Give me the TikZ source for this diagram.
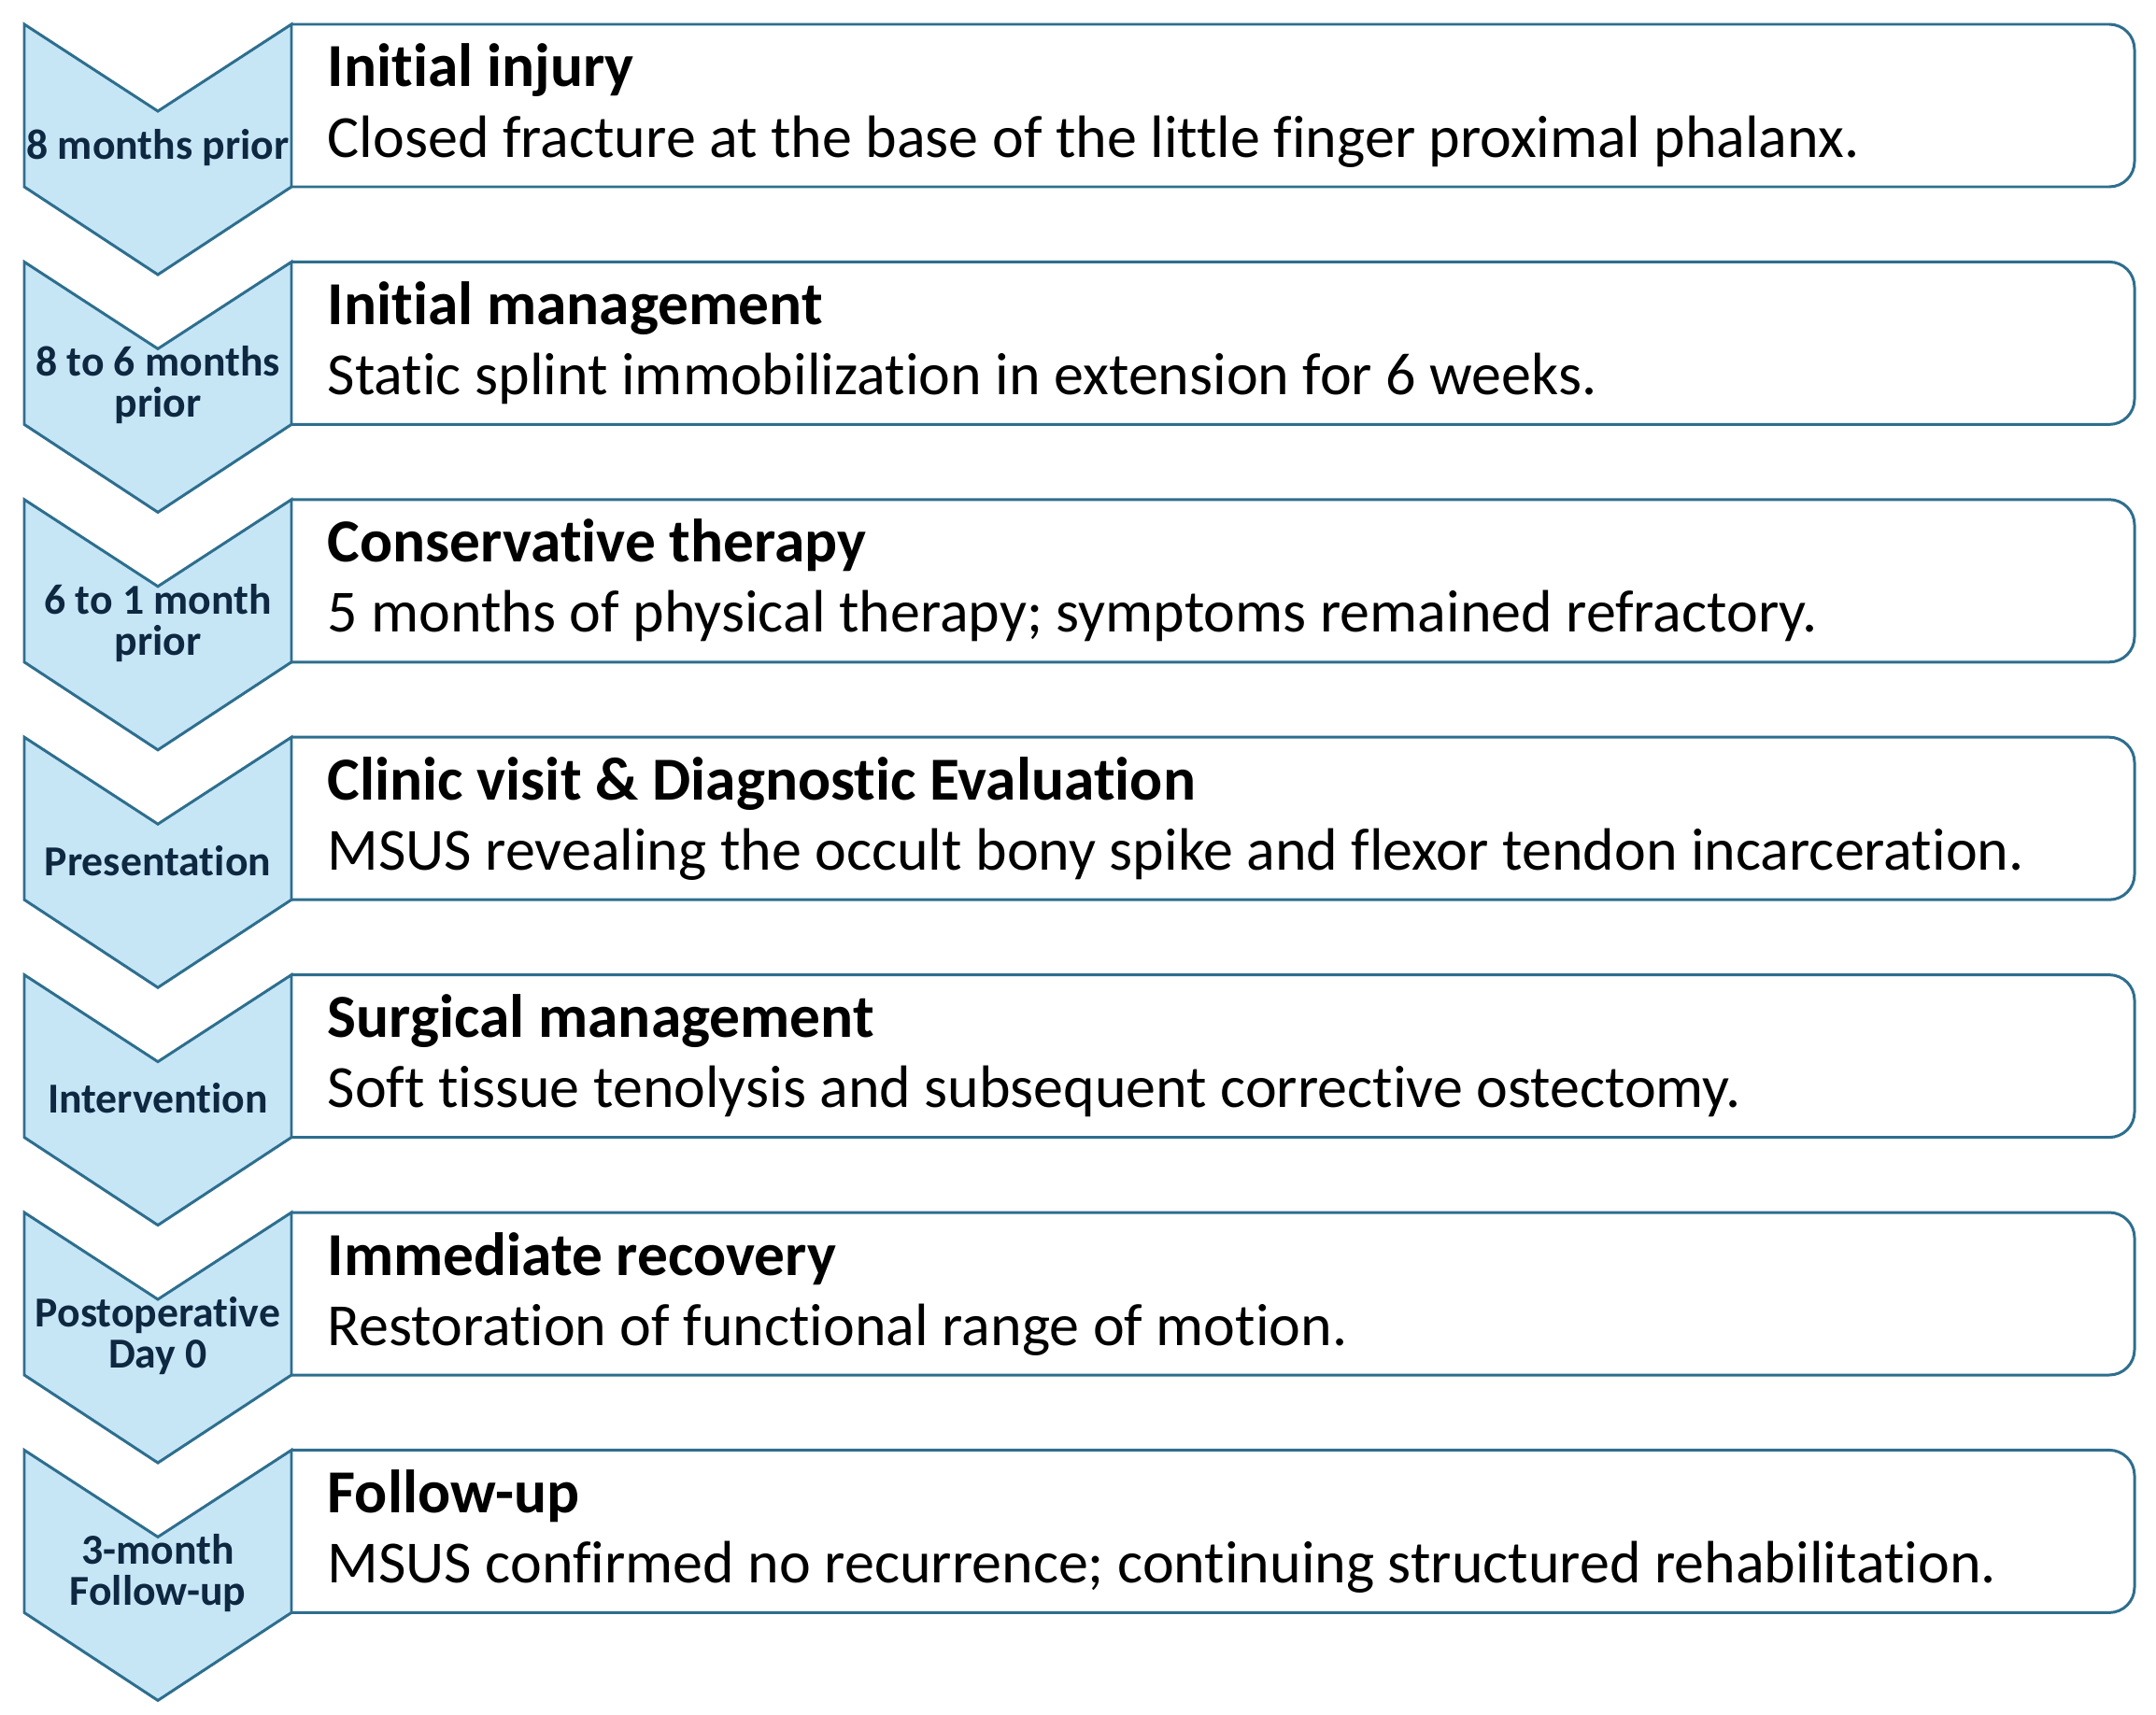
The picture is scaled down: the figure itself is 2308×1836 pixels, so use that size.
\documentclass[tikz,border=0pt]{standalone}
\usepackage{fontspec}
\setmainfont{Carlito}[Ligatures=NoCommon]
\usepackage{xcolor}
\usepackage{tikz}

\definecolor{chevfill}{HTML}{C6E6F6}
\definecolor{chevline}{HTML}{2E6E8E}
\definecolor{lblcol}{HTML}{0E2841}

\begin{document}
\begin{tikzpicture}[x=0.01cm,y=-0.01cm,
    stage/.style={draw=chevline,line width=0.85pt,fill=chevfill,line join=miter},
    panel/.style={draw=chevline,line width=0.85pt,fill=white,rounded corners=7.7pt},
    lbl/.style={align=center,text=lblcol,inner sep=0pt,
      font=\fontsize{13}{12.5}\selectfont\bfseries},
    ttl/.style={anchor=base west,inner sep=0pt,font=\fontsize{18.6}{20}\selectfont\bfseries},
    dsc/.style={anchor=base west,inner sep=0pt,font=\fontsize{18.2}{20}\selectfont}]
  \useasboundingbox (0,0) rectangle (2308,1836);
  \fill[white] (0,0) rectangle (2308,1836);
  \foreach \i/\when/\head/\body in {
      0/{8 months prior}/{Initial injury}/{Closed fracture at the base of the little finger proximal phalanx.},
      1/{8 to 6 months\\prior}/{Initial management}/{Static splint immobilization in extension for 6 weeks.},
      2/{6 to 1 month\\prior}/{Conservative therapy}/{5 months of physical therapy; symptoms remained refractory.},
      3/{Presentation}/{Clinic visit \& Diagnostic Evaluation}/{MSUS revealing the occult bony spike and flexor tendon incarceration.},
      4/{Intervention}/{Surgical management}/{Soft tissue tenolysis and subsequent corrective ostectomy.},
      5/{Postoperative\\Day 0}/{Immediate recovery}/{Restoration of functional range of motion.},
      6/{3-month\\Follow-up}/{Follow-up}/{MSUS confirmed no recurrence; continuing structured rehabilitation.}} {
    \pgfmathsetmacro{\rowy}{26+254.4*\i}
    % box first, chevron on top of its left edge
    \draw[panel] (312,\rowy) -- (2285,\rowy) -- (2285,\rowy+174) -- (312,\rowy+174);
    \draw[stage] (26,\rowy) -- (169,\rowy+93) -- (312,\rowy) -- (312,\rowy+174)
      -- (169,\rowy+268) -- (26,\rowy+174) -- cycle;
    \node[lbl] (when\i) at (169,\rowy+132) {\when};
    \node[ttl] (head\i) at (350,\rowy+67) {\head};
    \node[dsc] (body\i) at (350,\rowy+142) {\body};
  }
\end{tikzpicture}
\end{document}
